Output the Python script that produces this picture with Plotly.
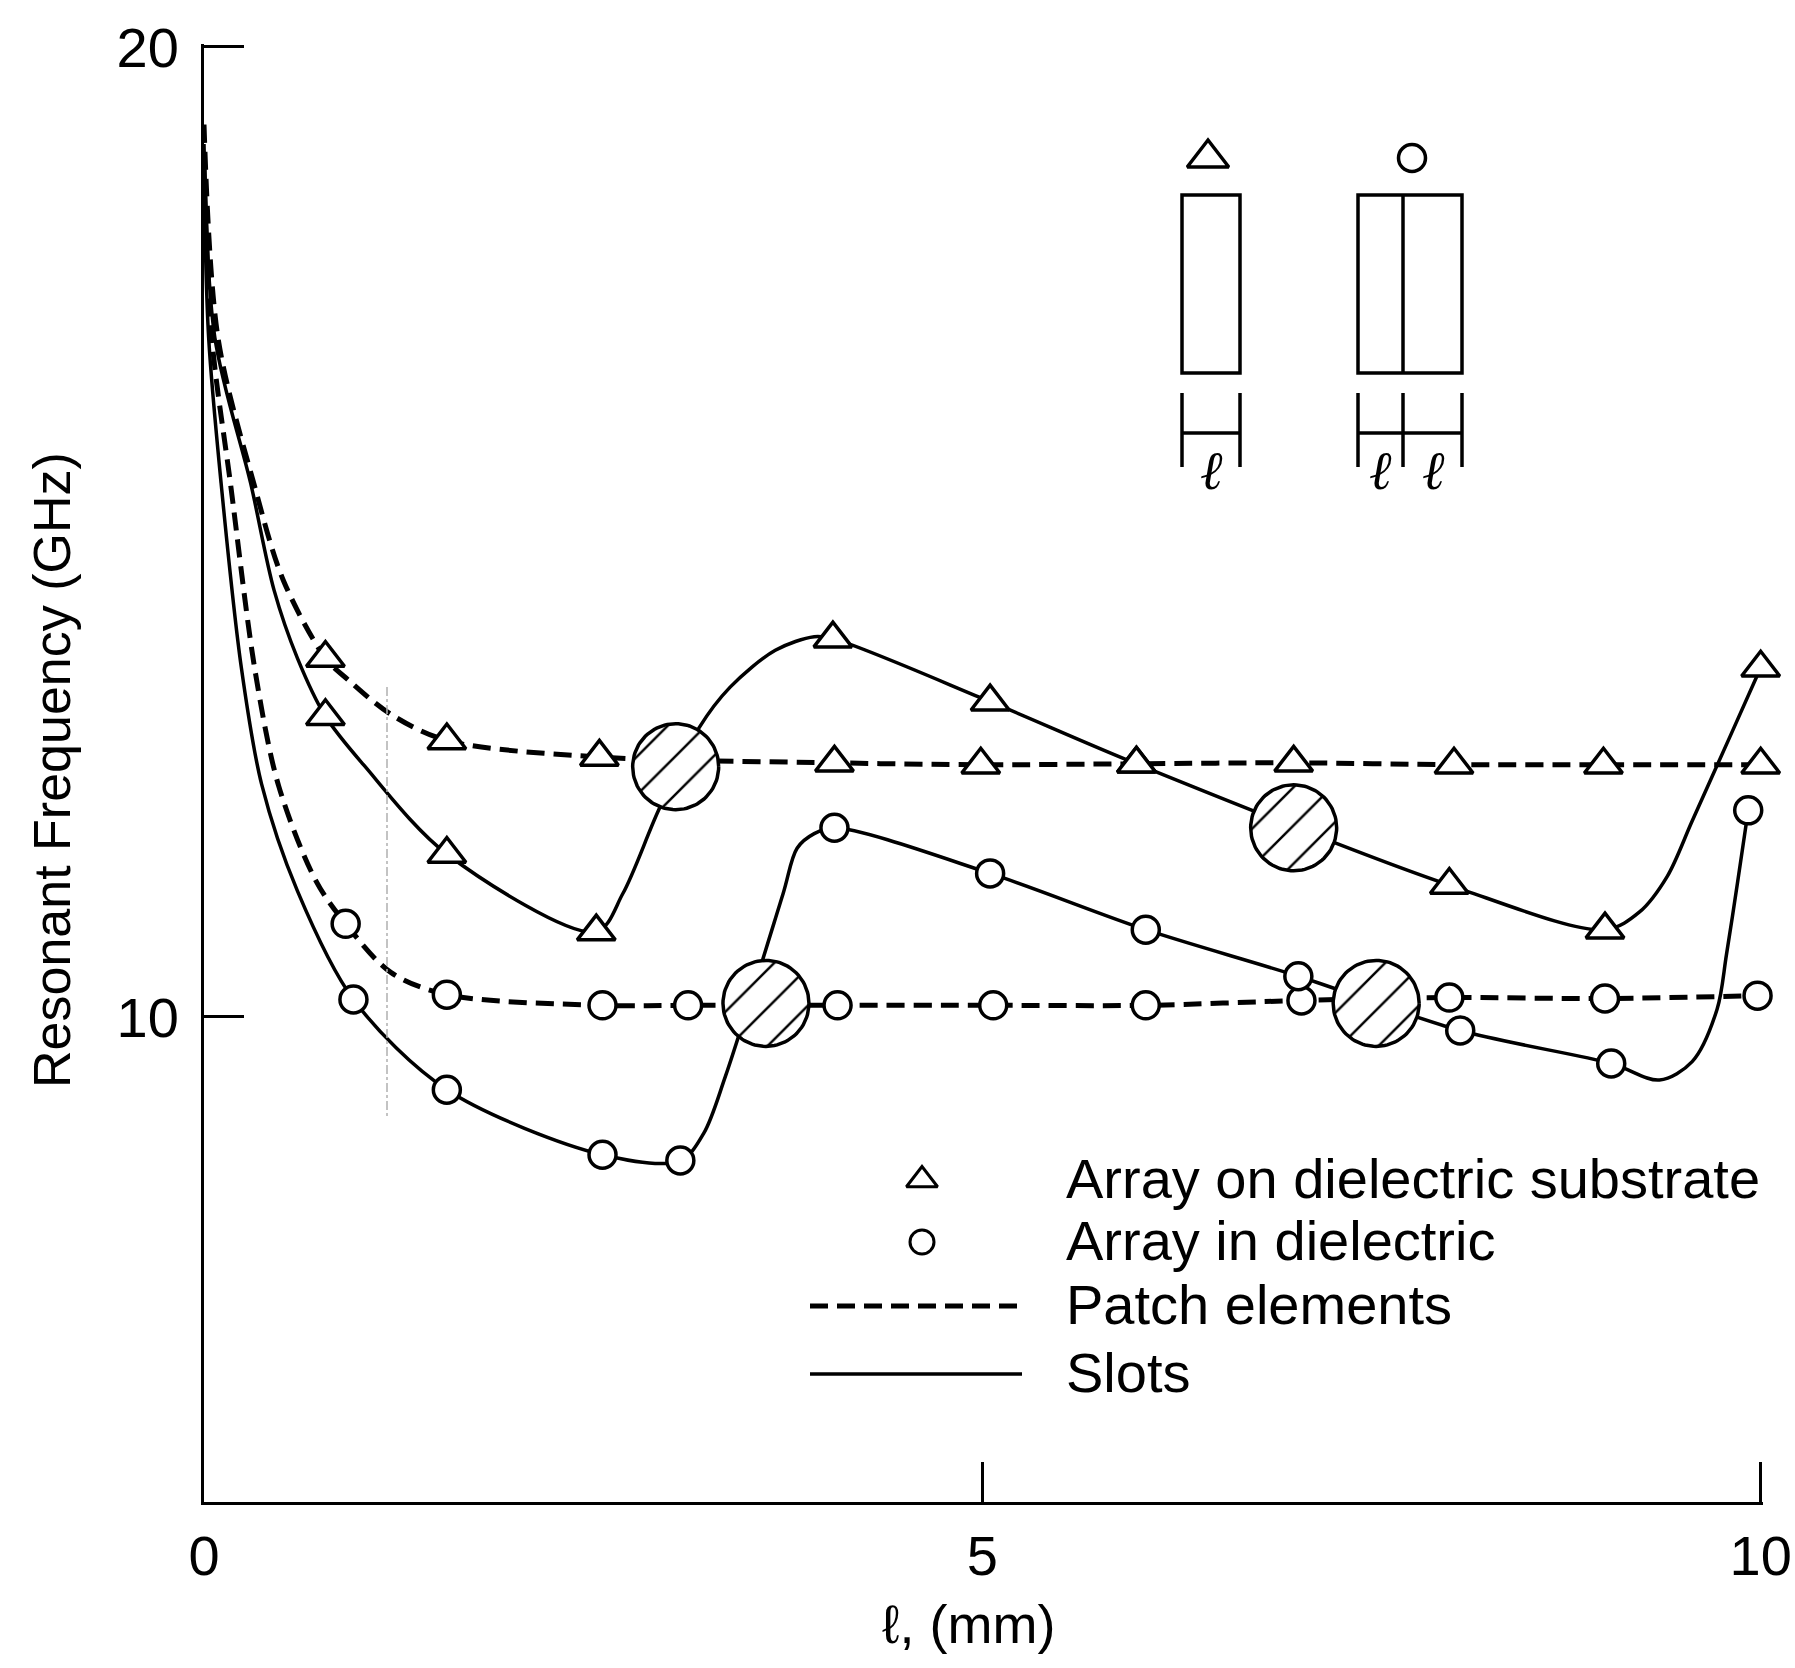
import numpy as np
import plotly.graph_objects as go

# ---------------- data ----------------
# x: l (mm), y: resonant frequency (GHz)

# Array on dielectric substrate (triangles) - patch elements (dashed)
tri_patch_x = [0.78, 1.56, 2.54, 4.05, 4.99, 5.99, 7.00, 8.03, 8.99, 10.0]
tri_patch_y = [13.70, 12.85, 12.68, 12.62, 12.60, 12.61, 12.62, 12.60, 12.60, 12.60]
tri_patch_cx = [0.0, 0.09, 0.32, 0.51, 0.93, 1.20]          # unmarked points on curve
tri_patch_cy = [19.2, 17.0, 15.5, 14.5, 13.47, 13.12]

# Array on dielectric substrate (triangles) - slots (solid)
tri_slot_x = [0.78, 1.56, 2.52, 4.04, 5.05, 5.99, 8.00, 9.00, 10.0]
tri_slot_y = [13.10, 11.68, 10.88, 13.90, 13.25, 12.61, 11.36, 10.90, 13.60]
tri_slot_cx = [0.0, 0.07, 0.30, 0.45, 0.60, 1.03, 2.69, 2.92, 3.18, 3.38, 3.67, 3.92,
               9.22, 9.40, 9.56, 9.80]
tri_slot_cy = [19.0, 17.0, 15.5, 14.4, 13.7, 12.59, 11.27, 12.13, 12.98, 13.40, 13.78, 13.92,
               11.08, 11.45, 12.02, 12.88]

# Array in dielectric (circles) - patch elements (dashed)
cir_patch_x = [0.91, 1.56, 2.56, 3.11, 4.07, 5.07, 6.05, 7.05, 8.00, 9.00, 9.98]
cir_patch_y = [10.96, 10.23, 10.12, 10.12, 10.12, 10.12, 10.12, 10.17, 10.20, 10.19, 10.22]
cir_patch_cx = [0.0, 0.05, 0.17, 0.33, 0.48, 0.72, 1.20]
cir_patch_cy = [18.8, 17.0, 15.5, 13.55, 12.38, 11.4, 10.46]

# Array in dielectric (circles) - slots (solid)
cir_slot_x = [0.96, 1.56, 2.56, 3.06, 4.05, 5.05, 6.05, 7.03, 8.07, 9.04, 9.92]
cir_slot_y = [10.18, 9.25, 8.58, 8.52, 11.95, 11.48, 10.90, 10.42, 9.86, 9.52, 12.13]
cir_slot_cx = [0.0, 0.03, 0.11, 0.24, 0.37, 0.60, 3.21, 3.35, 3.72, 3.81, 3.92,
               9.35, 9.56, 9.72, 9.78, 9.85]
cir_slot_cy = [18.6, 17.0, 15.5, 13.6, 12.4, 11.3, 8.80, 9.39, 11.27, 11.74, 11.89,
               9.35, 9.54, 10.08, 10.64, 11.37]

# crossing points (hatched circles)
cross_x = [3.03, 7.00, 3.61, 7.53]
cross_y = [12.58, 11.95, 10.14, 10.14]

x_ticks = [0, 5, 10]
y_ticks = [10, 20]
x_range = [0, 10.015]
y_range = [5, 20.03]

legend_labels = ["Array on dielectric substrate", "Array in dielectric",
                 "Patch elements", "Slots"]
x_title = "\u2113, (mm)"
y_title = "Resonant Frequency (GHz)"

# ---------------- layout geometry ----------------
W, H = 1795, 1668
ML, MR, MT, MB = 204, 32, 44, 166
PW, PH = W - ML - MR, H - MT - MB
px_x = PW / (x_range[1] - x_range[0])
px_y = PH / (y_range[1] - y_range[0])
FONT = "Liberation Sans, Arial, sans-serif"
DASH = "18px,9px"


def to_paper(px, py):
    return (px - ML) / PW, (H - MB - py) / PH


def to_data(px, py):
    return x_range[0] + (px - ML) / px_x, y_range[1] - (py - MT) / px_y


def merged(mx, my, cx, cy):
    pts = sorted(zip(list(mx) + list(cx), list(my) + list(cy)))
    return [p[0] for p in pts], [p[1] for p in pts]


fig = go.Figure()

curves = [
    (tri_patch_x, tri_patch_y, tri_patch_cx, tri_patch_cy, DASH, 5),
    (tri_slot_x, tri_slot_y, tri_slot_cx, tri_slot_cy, "solid", 3.5),
    (cir_patch_x, cir_patch_y, cir_patch_cx, cir_patch_cy, DASH, 5),
    (cir_slot_x, cir_slot_y, cir_slot_cx, cir_slot_cy, "solid", 3.5),
]
for mx, my, cx, cy, dash, lw in curves:
    xx, yy = merged(mx, my, cx, cy)
    fig.add_trace(go.Scatter(x=xx, y=yy, mode="lines",
                             line=dict(color="black", width=lw, dash=dash,
                                       shape="spline", smoothing=0.9),
                             hoverinfo="skip"))

# hatched crossing circles
R_HATCH = 43
theta = np.linspace(0, 2 * np.pi, 97)
for cx, cy in zip(cross_x, cross_y):
    fig.add_trace(go.Scatter(
        x=cx + R_HATCH / px_x * np.cos(theta),
        y=cy + R_HATCH / px_y * np.sin(theta),
        mode="lines", fill="toself", fillcolor="white",
        fillpattern=dict(shape="/", size=27, solidity=0.09,
                         fgcolor="black", bgcolor="white", fillmode="replace"),
        line=dict(color="black", width=3.5), hoverinfo="skip"))

# markers
for mx, my, sym, size in [(tri_patch_x, tri_patch_y, "triangle-up", 33),
                          (tri_slot_x, tri_slot_y, "triangle-up", 33),
                          (cir_patch_x, cir_patch_y, "circle", 27),
                          (cir_slot_x, cir_slot_y, "circle", 27)]:
    fig.add_trace(go.Scatter(x=mx, y=my, mode="markers", cliponaxis=False,
                             marker=dict(symbol=sym, size=size, color="white",
                                         line=dict(color="black", width=3.5)),
                             hoverinfo="skip"))

# ---------------- legend (drawn by hand) ----------------
leg_sym_x = 922
leg_rows_y = [1180, 1242, 1306, 1374]
lx, ly = to_data(leg_sym_x, leg_rows_y[0])
fig.add_trace(go.Scatter(x=[lx], y=[ly], mode="markers", cliponaxis=False,
                         marker=dict(symbol="triangle-up", size=27, color="white",
                                     line=dict(color="black", width=3)), hoverinfo="skip"))
lx, ly = to_data(leg_sym_x, leg_rows_y[1])
fig.add_trace(go.Scatter(x=[lx], y=[ly], mode="markers", cliponaxis=False,
                         marker=dict(symbol="circle", size=24, color="white",
                                     line=dict(color="black", width=3)), hoverinfo="skip"))

shapes = []


def pline(x0, y0, x1, y1, width=3.5, dash="solid", color="black"):
    a0, b0 = to_paper(x0, y0)
    a1, b1 = to_paper(x1, y1)
    shapes.append(dict(type="line", xref="paper", yref="paper",
                       x0=a0, y0=b0, x1=a1, y1=b1,
                       line=dict(color=color, width=width, dash=dash)))


pline(810, leg_rows_y[2], 1022, leg_rows_y[2], width=5, dash=DASH)
pline(810, leg_rows_y[3], 1022, leg_rows_y[3], width=3.5)

annotations = []
for lab, yy in zip(legend_labels, leg_rows_y):
    a, b = to_paper(1064, yy - 2)
    annotations.append(dict(text=lab, x=a, y=b, xref="paper", yref="paper",
                            xanchor="left", yanchor="middle", showarrow=False,
                            font=dict(size=56, family=FONT, color="black")))

# ---------------- inset sketch ----------------
def prect(x0, y0, x1, y1, width=3.5):
    a0, b0 = to_paper(x0, y0)
    a1, b1 = to_paper(x1, y1)
    shapes.append(dict(type="rect", xref="paper", yref="paper",
                       x0=a0, y0=b0, x1=a1, y1=b1,
                       line=dict(color="black", width=width)))


prect(1182, 195, 1240, 373)
prect(1358, 195, 1462, 373)
pline(1403, 195, 1403, 373)
for xv in [1182, 1240, 1358, 1403, 1462]:
    pline(xv, 393, xv, 467)
pline(1182, 433, 1240, 433)
pline(1358, 433, 1462, 433)
for xv in [1211, 1380, 1433]:
    a, b = to_paper(xv, 470)
    annotations.append(dict(text="<i>\u2113</i>", x=a, y=b, xref="paper", yref="paper",
                            xanchor="center", yanchor="middle", showarrow=False,
                            font=dict(size=54, family="DejaVu Serif", color="black")))
ix, iy = to_data(1208, 158)
fig.add_trace(go.Scatter(x=[ix], y=[iy], mode="markers", cliponaxis=False,
                         marker=dict(symbol="triangle-up", size=36, color="white",
                                     line=dict(color="black", width=3.5)), hoverinfo="skip"))
ix, iy = to_data(1412, 158)
fig.add_trace(go.Scatter(x=[ix], y=[iy], mode="markers", cliponaxis=False,
                         marker=dict(symbol="circle", size=27, color="white",
                                     line=dict(color="black", width=3.5)), hoverinfo="skip"))

# faint scan mark
pline(387, 687, 387, 1116, width=1.5, dash="dashdot", color="#b0b0b0")

# axis titles
a, b = to_paper(52, 770)
annotations.append(dict(text=y_title, x=a, y=b, xref="paper", yref="paper",
                        textangle=-90, xanchor="center", yanchor="middle", showarrow=False,
                        font=dict(size=52, family=FONT, color="black")))
a, b = to_paper(968, 1624)
annotations.append(dict(text=x_title, x=a, y=b, xref="paper", yref="paper",
                        xanchor="center", yanchor="middle", showarrow=False,
                        font=dict(size=54, family=FONT, color="black")))

axis_common = dict(showgrid=False, zeroline=False, showline=True, linecolor="black",
                   linewidth=3, ticks="inside", ticklen=40, tickwidth=3, tickcolor="black",
                   tickfont=dict(size=56, family=FONT, color="black"))
fig.update_layout(
    width=W, height=H, margin=dict(l=ML, r=MR, t=MT, b=MB, autoexpand=False),
    paper_bgcolor="white", plot_bgcolor="white", showlegend=False,
    font=dict(family=FONT, color="black"),
    xaxis=dict(range=x_range, tickvals=x_ticks, ticktext=[str(v) for v in x_ticks],
               ticklabelstandoff=3, **axis_common),
    yaxis=dict(range=y_range, tickvals=y_ticks, ticktext=[str(v) for v in y_ticks],
               ticklabelstandoff=11, **axis_common),
    shapes=shapes, annotations=annotations,
)

fig.write_html("out.html")
